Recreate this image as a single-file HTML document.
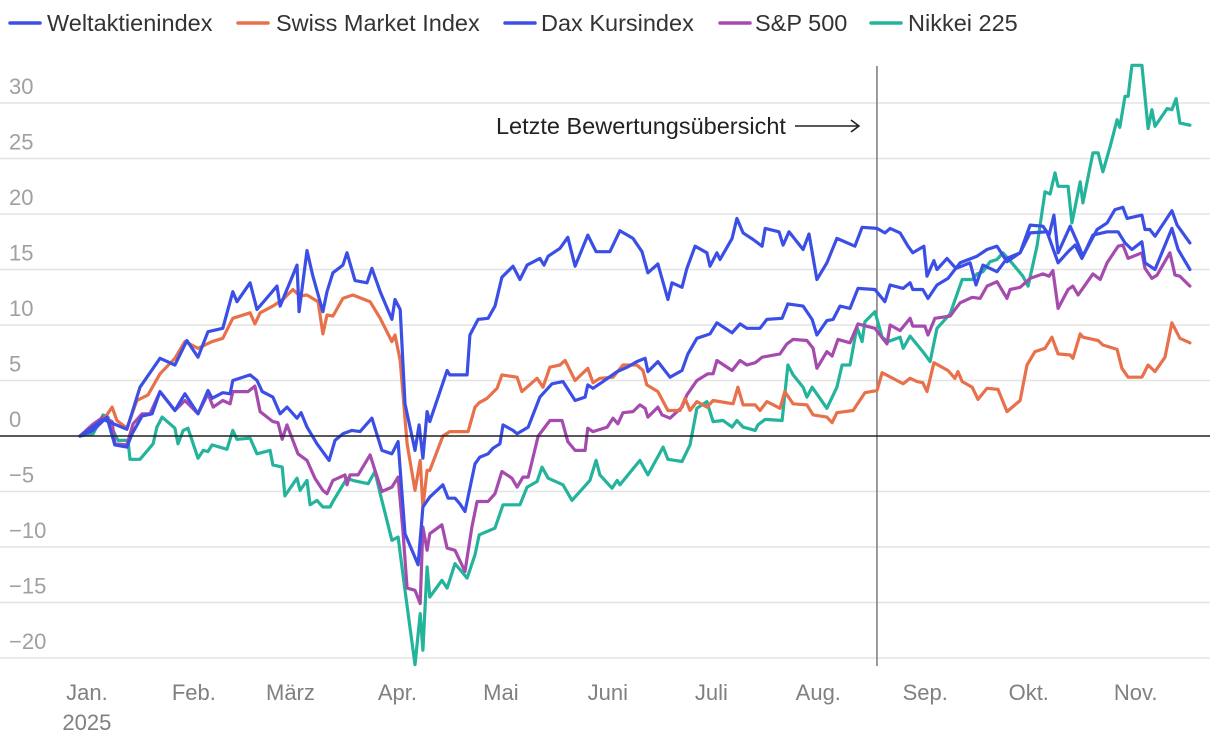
<!DOCTYPE html>
<html><head><meta charset="utf-8">
<style>
html,body{margin:0;padding:0;background:#fff;}
svg{display:block;font-family:"Liberation Sans",Arial,sans-serif;}
</style></head>
<body>
<svg id="chart" width="1220" height="742" viewBox="0 0 1220 742" xmlns="http://www.w3.org/2000/svg">
<g id="legend"></g>
<g id="grid"></g>
<g id="yaxis"></g>
<g id="xaxis"></g>
<g id="annot"></g>
<g id="series"></g>
</svg>
<script>
// ---- data (t = days since 2 Jan 2025, v = % change) ----
const yTicks = [-20,-15,-10,-5,0,5,10,15,20,25,30];
const monthLabels = ["Jan.","Feb.","März","Apr.","Mai","Juni","Juli","Aug.","Sep.","Okt.","Nov."];
const monthStarts = [-1,30,58,89,119,150,180,211,242,272,303];
const annotationDay = 231;
const annotationText = "Letzte Bewertungsübersicht";
const seriesNames = ["Weltaktienindex","Swiss Market Index","Dax Kursindex","S&P 500","Nikkei 225"];
const seriesColors = ["#3b4fe6","#e8704a","#3b4fe6","#a54bae","#24b39b"];

const weltT = [0,3.8,7.8,10.1,13.6,15.1,18,20.9,23.2,27.5,30.4,34.2,37.1,38.3,41.4,43.5,44.3,49.3,51.3,52.8,55.9,58,60,62.9,64.1,65.8,68.7,72.2,73.9,76.2,78.8,81.2,84.6,87.5,90.4,92.2,94.2,98,99.4,101.4,105.2,106.7,108.7,110.1,111.6,114.5,115.9,118.3,119.7,121.7,122.6,125.5,126.7,129.9,133.3,136.8,140,143.5,146.4,147.2,148.7,151.6,155.7,158.6,161.4,163.8,164.6,167.5,171,174.5,176.2,178.8,182.6,184.6,189,191.3,193.3,197.1,199.1,203.5,205.2,209.6,212.2,213.6,216.5,218.3,220.3,223.2,225.5,230.4,233.3,234.8,238.6,240.6,241.4,244.3,245.8,248.4,251.6,255.1,260,262.9,265.8,268.7,272.5,275.4,280.3,283.5,286.4,288.4,290.4,293.6,297.7,300.9,302.9,304.9,307.8,308.7,311.6,316.5,318.3,321.7];
const weltV = [0,0.5,1.7,-0.8,-1,0.2,1.8,2,4,2.3,3.8,2,4.1,3.4,3.9,3.8,5,5.5,5,4,3.5,2,2.6,1.6,2.1,0.8,-0.7,-2.2,-0.4,0.2,0.5,0.4,1.6,-1.3,-1.6,-0.5,-8.8,-11.6,-6.4,-5.5,-4.4,-5.6,-5.6,-6.1,-6.8,-2.5,-1.9,-1.6,-1.1,-0.7,1,0.5,0.2,0.8,3.5,4.7,4.9,3.2,3.5,4.6,4.3,4.9,5.8,6.2,6.7,7,5.8,6.7,5.3,5.9,7.4,8.8,9.2,10.2,9.3,10.1,9.7,9.7,10.5,10.6,11.9,11.7,10.5,9.1,10.4,10.5,11.7,11.5,13.3,13.2,12.1,13.6,13.3,13.8,13.2,13.2,12.4,13.6,14.2,15.6,16.2,16.8,17.1,15.7,16.5,18.3,18.4,15.6,16.6,17.2,16,18.1,18.4,18.4,17.4,16.8,17.5,15.6,15,18.7,16.8,15];

const smiT = [0,3.8,6.7,9.3,10.7,13.6,16.5,19.7,23.2,27.5,30.4,34.2,38.3,41.4,44.3,49.3,50.7,52.2,55.9,58.8,61.7,63.8,65.8,69,70.4,71.6,73.3,76.2,79.1,84.1,87,90.4,91.3,92.8,94.8,97.1,98.6,99.4,100.6,101.4,105.2,107.2,112.5,114.5,115.7,118,120.9,122.3,126.7,128.1,132.5,134.2,136.2,139.1,140.6,143.5,147.2,148.7,150.7,154.5,157.4,161.4,163.2,164.3,167.5,170.4,173.9,175.4,176.8,178.8,181.7,183.5,189.3,190.7,192.2,195.7,197.1,199.1,202.9,204.3,206.7,210.7,212.5,216.5,218,219.4,224.1,227.5,231,232.5,236.8,238.6,240.6,242.6,244.3,245.5,247.5,251.6,253.6,254.5,255.7,258.6,260.3,262.9,266.1,268.7,272.5,274.5,276.8,279.7,281.7,283.5,287,287.8,289.9,290.7,295.1,296.5,300.6,302,303.8,307.8,309.6,311.6,314.5,316.5,318.8,321.7];
const smiV = [0,0.5,1.4,2.6,1.4,0.7,3.2,3.7,5.6,7,8.5,7.9,8.5,8.8,10.6,11.1,10.1,11.1,11.7,12.3,13.2,12.6,12.7,12.1,9.2,10.9,10.8,12.4,12.7,12.1,10.6,8.5,9.1,6.8,-0.7,-4.9,-2.2,-6.4,-3.1,-3.1,0,0.4,0.4,2.6,3,3.4,4.3,5.5,5.3,4,5.2,4.4,6.2,6.4,6.8,5,6.1,4.8,5.2,5.3,6.4,6.4,5.9,4.6,4,2.3,2.3,3.4,2.3,3.1,2.6,3.2,2.9,4.4,2.8,2.8,2.3,3.1,2.5,4,2.9,2.8,1.9,1.7,1.2,2.1,2.3,3.9,4.1,5.7,5,4.7,5.2,4.9,4.8,4,6.6,5.9,5.2,5.8,4.9,4.4,3.3,4.3,4.2,2.2,3.2,6.4,7.6,7.9,8.9,7.4,7.3,7,9.2,8.9,8.6,8.2,7.8,6.1,5.3,5.3,6.4,5.8,7.1,10.2,8.8,8.4];

const daxT = [0,6.7,13.6,17.4,23.2,27.5,31,34.2,37.1,41.4,44.3,45.5,49.3,51.3,57.1,58,62.9,63.5,65.8,67.5,70.4,71.6,73.3,76.2,77.4,79.7,83.2,84.6,87,90.4,91.3,92.8,94.2,97.1,98.3,99.4,100.6,101.4,106.4,107.2,112.2,113,115.4,118.3,120.3,122.3,125.5,127.5,129.6,133.3,134.5,135.7,139.1,141.4,143.5,147.2,149.6,153.6,156.5,160.3,162.9,164.6,167.5,170.4,171.6,174.5,175.9,178.3,181.7,182.6,184.6,185.5,189,190.4,192.2,195.1,197.7,198.6,202.6,203.8,205.5,209.6,211.3,213.6,216.5,219.4,224.6,226.7,231,233.3,234.8,237.7,240,241.4,244.6,245.5,247.5,248.4,251.3,253.9,258,259.7,261.7,265.8,268.7,272.5,275.4,279.1,280.9,282.3,283.5,287,289,290.7,294.8,297.7,300,302.3,303.5,307.8,308.7,310.1,311.6,316.5,318,321.7];
const daxV = [0,1.5,0.6,4.4,7,6.4,8.6,7.1,9.4,9.7,13,12.1,13.8,11.4,13.5,11.7,15.4,11.2,16.7,14.4,11.2,13,14.7,15.4,16.5,14,13.8,15.1,13,10.5,12.3,11.4,2.9,-1.3,1,-2,2.2,1.3,5.9,5.5,5.5,9.1,10.5,10.6,11.7,14.3,15.3,14.1,15.4,16,15.4,16.2,16.9,17.9,15.3,18.1,16.6,16.6,18.5,17.8,16.6,14.7,15.5,12.3,13.8,13.4,15.1,17.1,16.5,15.3,16.5,15.9,17.8,19.6,18.3,17.7,17.1,18.7,18.4,17.2,18.4,16.8,18.2,14.1,15.6,17.8,17.1,18.8,18.7,18.3,18.7,18.3,17.1,16.5,17.1,14.4,15.8,15,16,15.1,15.6,13.6,15.4,14.8,16,16.5,19,18.9,18.1,19.9,16.5,18.9,17.5,16.2,18.6,19.2,20.4,20.6,19.6,19.9,18.6,18.6,18,20.3,19,17.4];

const spT = [0,3.5,6.7,9.3,10.1,13.6,15.4,18,20.3,23.2,27.5,30.4,34.2,37.1,38.6,41.4,43.5,44.3,48.7,50.7,52.2,55.9,57.4,58.6,60,63.2,65.8,68.1,70.4,71.6,73.3,76.8,77.4,78.3,80.6,84.1,85.5,87.5,90.4,92.2,93.6,94.8,97.1,98.6,99.4,100.6,101.4,104.9,106.4,108.7,111.6,113.6,115.1,118.3,120.3,122.3,125.2,126.7,128.4,129.9,132.8,136.2,139.7,141.4,143.5,146.4,147.2,148.7,152.8,154.5,155.9,157.4,160.3,162.3,163.8,164.6,167.5,168.7,171,174.5,175.9,178.8,182,183.5,184.6,189,191.3,193.3,195.7,197.7,202.9,204.9,206.7,210.7,212.5,213.6,216.5,218,219.7,223.2,225.5,230.4,233.9,234.8,237.7,240.6,241.4,244.9,245.8,247.8,252.2,255.1,258.6,260.9,262.9,265.8,268.7,269.6,272.5,275.4,279.1,280.9,282,283.5,286.4,287.8,289.3,293.6,295.7,297.7,300.9,302.3,303.8,307.8,308.7,310.7,312.2,315.9,317.4,318.8,321.7];
const spV = [0,1,1.7,1.3,-0.7,-0.8,1.1,2,2,4,2.3,3.2,2,3.8,2.6,3.2,2.9,4,4,4.5,2.2,1.3,1.2,-0.3,1,-1.6,-2.2,-3.8,-4.9,-5.2,-4,-3.5,-4.4,-3.5,-3.5,-1.7,-3.1,-5,-4.6,-3.7,-8.5,-13.7,-13.9,-15.1,-8.2,-10.3,-8.8,-8,-10.1,-10.3,-12.2,-8.2,-5.9,-5.9,-5.2,-3.2,-3.8,-4.6,-3.7,-3.7,0,1.4,1.4,-0.5,-1.3,-1.3,0.7,0.4,0.8,1.6,1.1,2.1,2.2,2.8,2.5,1.7,2.6,1.9,1.6,2.6,3.7,5,5.6,5.6,6.8,5.9,6.8,6.4,6.6,7.1,7.4,8.3,8.7,8.6,7.9,6.1,7.6,7.2,8.7,8.4,10.1,9.7,8.3,10,9.5,10.6,9.9,9.9,9.1,10.6,10.8,12,12.5,12.4,13.5,13.9,12.4,13.2,13.4,14.2,14.6,14.4,14.9,11.5,13.2,13.5,12.7,14.6,14.1,15.6,17.1,17.2,16,16.5,15.1,14.2,14.5,16.5,14.5,14.4,13.5];

const nikT = [0,3.8,6.7,8.1,9.6,11,13.9,14.5,17.4,21.2,22.3,23.8,27.5,28.4,29.9,31.3,34.2,35.7,37.1,38.3,42.6,44.3,45.5,49.3,51.3,55.1,55.9,58.6,59.4,62.9,63.8,65.8,66.7,68.7,70.4,72.5,73.3,77.4,79.1,83.5,85.5,87,90.4,92.2,94.2,97.1,98.6,99.4,100.6,101.4,104.9,106.4,108.7,112.2,114.5,115.7,120.3,122.6,127.5,129.6,132.5,133.9,135.7,140,142.6,147.8,149.6,150.7,154.2,155.7,156.5,162.3,164.6,169,170.4,174.5,176.8,178.8,181.7,183.5,186.4,189,190.4,192.2,195.7,196.5,198.6,203.5,205.2,206.7,209.6,210.7,212.2,216.5,219.4,220.9,223.2,225.2,226.7,227.5,230.4,232.5,234.2,237.7,238.6,240.6,244.3,246.4,248.4,252.2,255.7,258.6,260,261.7,263.8,265.8,267.5,270.1,273.3,274.8,277.4,279.7,281.2,282.6,283.5,286.4,287.5,289.9,290.7,293.6,295.1,296.5,298.6,300.6,301.4,302.9,303.8,304.9,307.8,309.6,310.7,311.6,315.1,316.5,317.7,318.8,321.7];
const nikV = [0,0.2,1.9,1.7,0.5,-0.4,-0.4,-2.1,-2.1,-0.7,0.8,1.7,0.7,-0.7,0.5,0.7,-2,-1.3,-1.4,-0.8,-1.2,0.5,-0.3,-0.2,-1.6,-1.3,-2.6,-2.8,-5.4,-3.8,-4.9,-4,-6.2,-5.8,-6.4,-6.4,-5.9,-3.8,-4,-4.3,-3.2,-5.2,-9.4,-9.1,-13.9,-20.6,-16,-19.3,-11.8,-14.5,-13,-13.7,-11.5,-12.8,-10.7,-8.9,-8.3,-6.2,-6.2,-4.6,-4.1,-2.8,-3.8,-4.4,-5.8,-4,-2.2,-3.5,-4.7,-4,-4.4,-2.2,-3.5,-1,-2.1,-2.3,-0.8,2.5,3.1,1.3,1.4,0.8,1.4,0.8,0.5,1,1.5,1.4,6.4,5.5,4.4,3.5,4.4,2.5,4.4,6.4,6.4,9.8,8.5,10.3,11.2,8.9,8.5,8.9,7.9,9,7.6,6.7,9.7,11,14.1,14.1,14.6,14.8,15.7,15.9,16.5,15.6,14.4,13.5,17.1,22,21.8,23.7,22.5,22.5,19.2,22.9,21,25.5,25.5,23.8,26.1,28.5,27.8,30.6,30.6,33.4,33.4,27.7,29.4,27.9,29.5,29.4,30.4,28.2,28];

// ---- scales ----
const NS = "http://www.w3.org/2000/svg";
const X0 = 80, PXD = 3.45;
function xs(t){ return X0 + t * PXD; }
const Y0 = 436, PXV = 11.1;
function ys(v){ return Y0 - v * PXV; }
function mk(tag, attrs, parent){ const e=document.createElementNS(NS,tag); for(const k in attrs) e.setAttribute(k,attrs[k]); parent.appendChild(e); return e; }

// grid + y labels
const grid = document.getElementById('grid'), yaxis = document.getElementById('yaxis');
yTicks.forEach(v=>{
  if(v!==0){
    const l = mk('line',{x1:0,x2:1210,y1:ys(v),y2:ys(v),stroke:'#e3e3e3','stroke-width':1.5},grid);
    
    
  }
  const t = mk('text',{x:9,y:ys(v)-9,fill:'#a0a0a0','font-size':22},yaxis);
  t.textContent = v < 0 ? '\u2212' + Math.abs(v) : v;
  
  
});

// x labels
const xaxis = document.getElementById('xaxis');
monthLabels.forEach((m,i)=>{
  const t = mk('text',{x:xs(monthStarts[i]+3),y:700,fill:'#808080','font-size':22,'text-anchor':'middle'},xaxis);
  t.textContent = m;
  
  
});
const yr = mk('text',{x:xs(monthStarts[0]+3),y:730,fill:'#808080','font-size':22,'text-anchor':'middle'},xaxis);
yr.textContent = '2025';



// annotation
const annot = document.getElementById('annot');
const ax = xs(annotationDay);
const vl = mk('line',{x1:ax,x2:ax,y1:66,y2:666,stroke:'#7a7a7a','stroke-width':1.5},annot);


const at = mk('text',{x:ax-91,y:134,fill:'#222','font-size':23.5,'text-anchor':'end'},annot);
at.textContent = annotationText;


const ar = mk('path',{d:`M${ax-82} 126 H${ax-18} M${ax-26} 120 L${ax-18} 126 L${ax-26} 132`,stroke:'#222','stroke-width':1.6,fill:'none'},annot);



// series
const series = document.getElementById('series');
const allT=[weltT,smiT,daxT,spT,nikT], allV=[weltV,smiV,daxV,spV,nikV];
const order=[4,3,1,0,2];
order.forEach(i=>{
  const T=allT[i], V=allV[i];
  let d='';
  for(let k=0;k<T.length;k++) d += (k?'L':'M') + xs(T[k]).toFixed(1) + ' ' + ys(V[k]).toFixed(1);
  const p = mk('path',{d:d,fill:'none',stroke:seriesColors[i],'stroke-width':3.2,'stroke-linejoin':'round','stroke-linecap':'round'},series);
  
  
});
// zero line
const zl = mk('line',{x1:0,x2:1210,y1:ys(0),y2:ys(0),stroke:'#222','stroke-width':1.5},series);



// legend
const legend = document.getElementById('legend');
const legDash = [10,238,505,720,871];
const legText = [47,276,541,755,908];
seriesNames.forEach((n,i)=>{
  const g = mk('g',{},legend);
  
  
  mk('line',{x1:legDash[i],x2:legDash[i]+30,y1:23,y2:23,stroke:seriesColors[i],'stroke-width':3.5,'stroke-linecap':'round'},g);
  const t = mk('text',{x:legText[i],y:31,fill:'#333','font-size':23.5},g);
  t.textContent = n;
});
</script>
</body></html>
